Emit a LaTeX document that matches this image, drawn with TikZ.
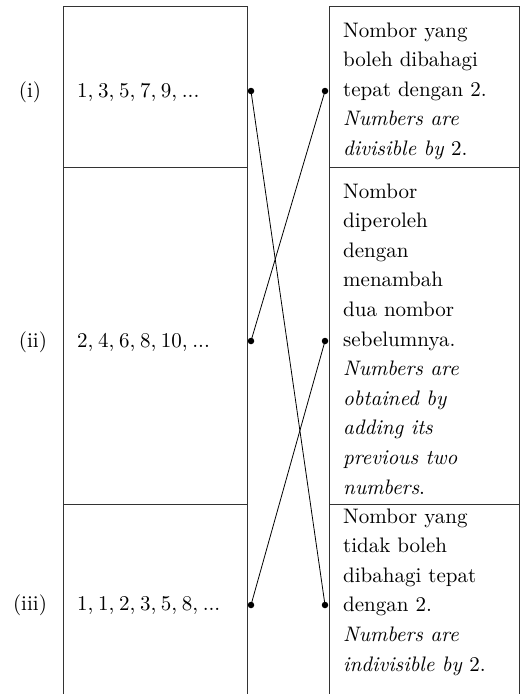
\documentclass[tikz,border=0pt]{standalone}
\usepackage{fontspec}
\setmainfont{lmroman10-regular.otf}[ItalicFont=lmroman10-italic.otf]
\newcommand\myTightSp{\spaceskip=4.6pt plus 1pt minus 0.5pt\relax}
\begin{document}
\begin{tikzpicture}[x=1pt,y=-1pt,
  grid/.style={line width=0.9pt, draw=black!80},
  link/.style={line width=0.8pt, draw=black},
  dot/.style={circle, fill=black, inner sep=0pt, minimum size=6.5pt},
  txt/.style={anchor=base west, inner sep=0pt, font=\fontsize{21}{29.6}\selectfont},
  seq/.style={txt, font=\fontsize{21}{29.6}\selectfont\myTightSp},
  lab/.style={anchor=base, inner sep=0pt, font=\fontsize{21}{29.6}\selectfont}]
\useasboundingbox (0,0) rectangle (521,694);
% table grid
\draw[grid] (63,694) -- (63,6) -- (247,6) -- (247,694);
\draw[grid] (63,167) -- (247,167);
\draw[grid] (63,504) -- (247,504);
\draw[grid] (329,694) -- (329,6) -- (519,6) -- (519,694);
\draw[grid] (329,167) -- (519,167);
\draw[grid] (329,504) -- (519,504);
% row labels
\node[lab] (lab1) at (30,97) {(i)};
\node[lab] (lab2) at (33,347) {(ii)};
\node[lab] (lab3) at (30,610) {(iii)};
% left texts
\node[seq] (s1) at (77,97) {1, 3, 5, 7, 9, ...};
\node[seq] (s2) at (77,347) {2, 4, 6, 8, 10, ...};
\node[seq] (s3) at (77,610) {1, 1, 2, 3, 5, 8, ...};
% right texts
\node[txt] (d1) at (343,37) {\parbox[t]{175pt}{\raggedright Nombor yang\\ boleh dibahagi\\ tepat dengan 2.\\ \textit{Numbers are}\\ \textit{divisible by} 2.}};
\node[txt] (d2) at (343,198) {\parbox[t]{175pt}{\raggedright Nombor\\ diperoleh\\ dengan\\ menambah\\ dua nombor\\ sebelumnya.\\ \textit{Numbers are}\\ \textit{obtained by}\\ \textit{adding its}\\ \textit{previous two}\\ \textit{numbers}.}};
\node[txt] (d3) at (343,523) {\parbox[t]{175pt}{\raggedright Nombor yang\\ tidak boleh\\ dibahagi tepat\\ dengan 2.\\ \textit{Numbers are}\\ \textit{indivisible by} 2.}};
% dots
\node[dot] (L1) at (251,91) {};
\node[dot] (L2) at (251,341) {};
\node[dot] (L3) at (251,605) {};
\node[dot] (R1) at (325,91) {};
\node[dot] (R2) at (325,341) {};
\node[dot] (R3) at (325,605) {};
% connectors
\draw[link] (L1.center) -- (R3.center);
\draw[link] (L2.center) -- (R1.center);
\draw[link] (L3.center) -- (R2.center);
\end{tikzpicture}
\end{document}
